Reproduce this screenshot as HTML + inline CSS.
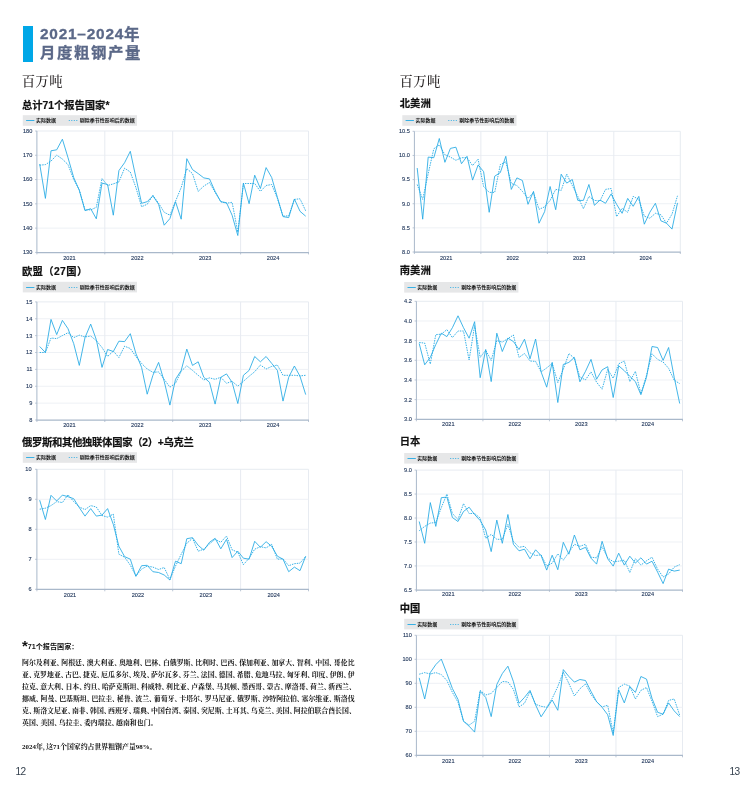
<!DOCTYPE html>
<html lang="zh-CN"><head><meta charset="utf-8"><title>2021–2024年 月度粗钢产量</title>
<style>
html,body{margin:0;padding:0;background:#fff}
body{width:756px;height:794px;position:relative;overflow:hidden;font-family:"Liberation Sans","Noto Sans CJK SC",sans-serif;color:#1a1a1a}
.abs{position:absolute}
.bar{position:absolute;left:22.9px;top:25.9px;width:10px;height:36.2px;background:#00a7e7}
.h1{position:absolute;left:40px;font-size:16px;line-height:18px;font-weight:700;color:#5b6888;-webkit-text-stroke:0.3px #5b6888;white-space:nowrap}
.unit{position:absolute;top:73px;font-family:"Liberation Serif","Noto Serif CJK SC",serif;font-size:13.4px;line-height:18px;color:#231f20;font-weight:500;white-space:nowrap;letter-spacing:0.3px}
.ct{position:absolute;font-size:10.3px;line-height:12px;font-weight:700;color:#111;-webkit-text-stroke:0.2px #111;white-space:nowrap}
svg{position:absolute;left:0;top:0}
.al{font-family:"Liberation Sans",sans-serif;font-size:5.6px;fill:#23395d;stroke:#23395d;stroke-width:0.12px}
.lg{font-family:"Liberation Sans","Noto Sans CJK SC",sans-serif;font-size:5px;fill:#111;font-weight:700}
.fh{position:absolute;left:27.7px;top:641.6px;font-size:7.15px;line-height:10px;font-weight:700;color:#111;white-space:nowrap}
.star{position:absolute;left:22.1px;top:638.3px;font-size:15px;line-height:15px;font-weight:700;color:#111}
.ft{position:absolute;left:22.1px;top:656.6px;width:332.5px;font-family:"Liberation Serif","Noto Serif CJK SC",serif;font-weight:700;font-size:6.9px;color:#111;font-feature-settings:"halt"}
.fl{height:12.06px;line-height:12.06px;white-space:nowrap}
.fj{display:flex;justify-content:space-between}
.fn span{margin-right:1.1px}
.fe{padding-right:2.2px;box-sizing:border-box}
.pn{position:absolute;top:765.2px;font-size:10.1px;letter-spacing:-0.7px;line-height:14px;color:#36424f;font-family:"Liberation Sans",sans-serif}
</style></head><body>
<div class="bar"></div>
<div class="h1" style="top:25.4px;letter-spacing:0.78px"><span style="font-size:15.4px">2021–2024</span><span style="font-size:15.5px;letter-spacing:0;position:relative;top:1px">年</span></div>
<div class="h1" style="top:44.3px;letter-spacing:1.6px;font-size:15.4px;transform:scaleY(0.94);transform-origin:0 85%">月度粗钢产量</div>
<div class="unit" style="left:21.8px">百万吨</div>
<div class="unit" style="left:399.6px">百万吨</div>
<div class="ct" style="left:21.9px;top:99.7px;letter-spacing:0px">总计71个报告国家*</div>
<div class="ct" style="left:21.9px;top:265.9px;letter-spacing:0.4px">欧盟（27国）</div>
<div class="ct" style="left:21.9px;top:436.5px;letter-spacing:-0.27px">俄罗斯和其他独联体国家（2）+乌克兰</div>
<div class="ct" style="left:399.8px;top:98.4px;letter-spacing:0px">北美洲</div>
<div class="ct" style="left:399.8px;top:265.2px;letter-spacing:0px">南美洲</div>
<div class="ct" style="left:399.8px;top:435.7px;letter-spacing:0px">日本</div>
<div class="ct" style="left:399.8px;top:602.7px;letter-spacing:0px">中国</div>
<svg width="756" height="794" viewBox="0 0 756 794">
<path d="M36.9 131.0H308.5V252.4" fill="none" stroke="#e7ebf1" stroke-width="1"/>
<path d="M36.9 155.28H308.5" stroke="#eef1f5" stroke-width="1"/>
<path d="M36.9 179.56H308.5" stroke="#eef1f5" stroke-width="1"/>
<path d="M36.9 203.84H308.5" stroke="#eef1f5" stroke-width="1"/>
<path d="M36.9 228.12H308.5" stroke="#eef1f5" stroke-width="1"/>
<path d="M104.80 131.0V252.4" stroke="#e7ebf1" stroke-width="1"/>
<path d="M172.70 131.0V252.4" stroke="#e7ebf1" stroke-width="1"/>
<path d="M240.60 131.0V252.4" stroke="#e7ebf1" stroke-width="1"/>
<path d="M36.9 131.0V252.4" fill="none" stroke="#a9b8ca" stroke-width="1"/>
<path d="M36.4 252.5H308.9" fill="none" stroke="#a9b8ca" stroke-width="1.25"/>
<path d="M35.1 131.00H36.9M35.1 155.28H36.9M35.1 179.56H36.9M35.1 203.84H36.9M35.1 228.12H36.9M35.1 252.40H36.9M36.90 252.4V254.4M104.80 252.4V254.4M172.70 252.4V254.4M240.60 252.4V254.4M308.50 252.4V254.4" stroke="#a9b8ca" stroke-width="0.8" fill="none"/>
<text x="32.3" y="132.90" text-anchor="end" class="al">180</text>
<text x="32.3" y="157.18" text-anchor="end" class="al">170</text>
<text x="32.3" y="181.46" text-anchor="end" class="al">160</text>
<text x="32.3" y="205.74" text-anchor="end" class="al">150</text>
<text x="32.3" y="230.02" text-anchor="end" class="al">140</text>
<text x="32.3" y="254.30" text-anchor="end" class="al">130</text>
<text x="69.4" y="259.9" text-anchor="middle" class="al">2021</text>
<text x="137.3" y="259.9" text-anchor="middle" class="al">2022</text>
<text x="205.2" y="259.9" text-anchor="middle" class="al">2023</text>
<text x="273.1" y="259.9" text-anchor="middle" class="al">2024</text>
<polyline points="39.7,165.2 45.4,164.6 51.0,161.1 56.7,155.1 62.4,159.1 68.0,164.6 73.7,179.5 79.3,189.8 85.0,209.7 90.7,209.9 96.3,207.3 102.0,178.5 107.6,185.5 113.3,183.9 118.9,181.9 124.6,168.2 130.3,172.0 135.9,187.5 141.6,206.7 147.2,204.3 152.9,195.4 158.6,203.3 164.2,212.3 169.9,215.2 175.5,201.3 181.2,187.5 186.8,168.6 192.5,173.6 198.2,191.4 203.8,186.1 209.5,182.5 215.1,192.4 220.8,201.7 226.5,203.3 232.1,202.3 237.8,232.1 243.4,183.5 249.1,183.5 254.7,183.5 260.4,191.4 266.1,185.5 271.7,184.5 277.4,198.4 283.0,216.2 288.7,215.8 294.4,199.4 300.0,198.8 305.7,210.9" fill="none" stroke="#22a9e4" stroke-width="0.9" stroke-dasharray="1.5 1.0" stroke-linejoin="round"/>
<polyline points="39.7,164.0 45.4,198.4 51.0,150.8 56.7,149.8 62.4,139.2 68.0,157.7 73.7,177.5 79.3,190.4 85.0,210.7 90.7,208.7 96.3,218.8 102.0,183.1 107.6,184.5 113.3,215.2 118.9,170.6 124.6,162.7 130.3,151.3 135.9,177.5 141.6,203.3 147.2,201.7 152.9,195.8 158.6,204.3 164.2,225.2 169.9,218.6 175.5,201.7 181.2,219.2 186.8,158.7 192.5,169.6 198.2,173.6 203.8,177.9 209.5,178.9 215.1,191.4 220.8,201.7 226.5,202.7 232.1,215.2 237.8,235.5 243.4,183.1 249.1,203.7 254.7,175.2 260.4,188.5 266.1,167.6 271.7,177.5 277.4,197.4 283.0,216.6 288.7,217.6 294.4,199.0 300.0,211.3 305.7,216.2" fill="none" stroke="#22a9e4" stroke-width="0.85" stroke-linejoin="round"/>
<rect x="22.8" y="115.2" width="114.2" height="10.6" fill="#e6e7e8"/>
<path d="M26.1 120.5h8.3" stroke="#22a9e4" stroke-width="0.9"/>
<text x="35.9" y="122.3" class="lg">实际数据</text>
<path d="M68.8 120.5h9" stroke="#22a9e4" stroke-width="0.9" stroke-dasharray="1 1.5"/>
<text x="79.8" y="122.3" class="lg">剔除季节性影响后的数据</text>
<path d="M36.9 301.9H308.5V420.0" fill="none" stroke="#e7ebf1" stroke-width="1"/>
<path d="M36.9 318.77H308.5" stroke="#eef1f5" stroke-width="1"/>
<path d="M36.9 335.64H308.5" stroke="#eef1f5" stroke-width="1"/>
<path d="M36.9 352.51H308.5" stroke="#eef1f5" stroke-width="1"/>
<path d="M36.9 369.39H308.5" stroke="#eef1f5" stroke-width="1"/>
<path d="M36.9 386.26H308.5" stroke="#eef1f5" stroke-width="1"/>
<path d="M36.9 403.13H308.5" stroke="#eef1f5" stroke-width="1"/>
<path d="M104.80 301.9V420.0" stroke="#e7ebf1" stroke-width="1"/>
<path d="M172.70 301.9V420.0" stroke="#e7ebf1" stroke-width="1"/>
<path d="M240.60 301.9V420.0" stroke="#e7ebf1" stroke-width="1"/>
<path d="M36.9 301.9V420.0" fill="none" stroke="#a9b8ca" stroke-width="1"/>
<path d="M36.4 420.1H308.9" fill="none" stroke="#a9b8ca" stroke-width="1.25"/>
<path d="M35.1 301.90H36.9M35.1 318.77H36.9M35.1 335.64H36.9M35.1 352.51H36.9M35.1 369.39H36.9M35.1 386.26H36.9M35.1 403.13H36.9M35.1 420.00H36.9M36.90 420.0V422.0M104.80 420.0V422.0M172.70 420.0V422.0M240.60 420.0V422.0M308.50 420.0V422.0" stroke="#a9b8ca" stroke-width="0.8" fill="none"/>
<text x="32.3" y="303.80" text-anchor="end" class="al">15</text>
<text x="32.3" y="320.67" text-anchor="end" class="al">14</text>
<text x="32.3" y="337.54" text-anchor="end" class="al">13</text>
<text x="32.3" y="354.41" text-anchor="end" class="al">12</text>
<text x="32.3" y="371.29" text-anchor="end" class="al">11</text>
<text x="32.3" y="388.16" text-anchor="end" class="al">10</text>
<text x="32.3" y="405.03" text-anchor="end" class="al">9</text>
<text x="32.3" y="421.90" text-anchor="end" class="al">8</text>
<text x="69.4" y="426.5" text-anchor="middle" class="al">2021</text>
<text x="137.3" y="426.5" text-anchor="middle" class="al">2022</text>
<text x="205.2" y="426.5" text-anchor="middle" class="al">2023</text>
<text x="273.1" y="426.5" text-anchor="middle" class="al">2024</text>
<polyline points="39.7,352.5 45.4,352.5 51.0,338.0 56.7,338.6 62.4,335.6 68.0,332.7 73.7,337.6 79.3,335.2 85.0,337.0 90.7,336.0 96.3,340.6 102.0,347.5 107.6,356.5 113.3,351.1 118.9,357.5 124.6,346.2 130.3,348.5 135.9,356.5 141.6,363.4 147.2,369.0 152.9,372.3 158.6,371.9 164.2,379.3 169.9,387.2 175.5,383.3 181.2,371.3 186.8,365.8 192.5,370.4 198.2,375.3 203.8,379.9 209.5,377.9 215.1,379.3 220.8,377.3 226.5,383.3 232.1,381.3 237.8,386.2 243.4,381.3 249.1,376.3 254.7,371.7 260.4,365.0 266.1,369.0 271.7,366.4 277.4,365.0 283.0,375.3 288.7,375.3 294.4,375.3 300.0,375.9 305.7,375.3" fill="none" stroke="#22a9e4" stroke-width="0.9" stroke-dasharray="1.5 1.0" stroke-linejoin="round"/>
<polyline points="39.7,346.5 45.4,352.5 51.0,319.4 56.7,334.6 62.4,320.4 68.0,328.7 73.7,343.6 79.3,365.4 85.0,337.6 90.7,324.1 96.3,339.6 102.0,367.4 107.6,349.5 113.3,351.5 118.9,341.2 124.6,341.6 130.3,333.7 135.9,353.5 141.6,367.4 147.2,394.2 152.9,375.3 158.6,362.4 164.2,381.3 169.9,405.1 175.5,379.3 181.2,370.4 186.8,349.1 192.5,365.4 198.2,361.8 203.8,377.3 209.5,382.3 215.1,404.1 220.8,377.3 226.5,373.9 232.1,382.3 237.8,403.5 243.4,375.3 249.1,370.4 254.7,356.5 260.4,361.8 266.1,356.5 271.7,363.4 277.4,370.4 283.0,401.1 288.7,377.3 294.4,366.0 300.0,376.3 305.7,394.6" fill="none" stroke="#22a9e4" stroke-width="0.85" stroke-linejoin="round"/>
<rect x="22.8" y="281.8" width="114.2" height="10.6" fill="#e6e7e8"/>
<path d="M26.1 287.5h8.3" stroke="#22a9e4" stroke-width="0.9"/>
<text x="35.9" y="288.9" class="lg">实际数据</text>
<path d="M68.8 287.5h9" stroke="#22a9e4" stroke-width="0.9" stroke-dasharray="1 1.5"/>
<text x="79.8" y="288.9" class="lg">剔除季节性影响后的数据</text>
<path d="M36.9 469.3H308.5V589.3" fill="none" stroke="#e7ebf1" stroke-width="1"/>
<path d="M36.9 499.30H308.5" stroke="#eef1f5" stroke-width="1"/>
<path d="M36.9 529.30H308.5" stroke="#eef1f5" stroke-width="1"/>
<path d="M36.9 559.30H308.5" stroke="#eef1f5" stroke-width="1"/>
<path d="M104.80 469.3V589.3" stroke="#e7ebf1" stroke-width="1"/>
<path d="M172.70 469.3V589.3" stroke="#e7ebf1" stroke-width="1"/>
<path d="M240.60 469.3V589.3" stroke="#e7ebf1" stroke-width="1"/>
<path d="M36.9 469.3V589.3" fill="none" stroke="#a9b8ca" stroke-width="1"/>
<path d="M36.4 589.4H308.9" fill="none" stroke="#a9b8ca" stroke-width="1.25"/>
<path d="M35.1 469.30H36.9M35.1 499.30H36.9M35.1 529.30H36.9M35.1 559.30H36.9M35.1 589.30H36.9M36.90 589.3V591.3M104.80 589.3V591.3M172.70 589.3V591.3M240.60 589.3V591.3M308.50 589.3V591.3" stroke="#a9b8ca" stroke-width="0.8" fill="none"/>
<text x="31.5" y="471.20" text-anchor="end" class="al">10</text>
<text x="31.5" y="501.20" text-anchor="end" class="al">9</text>
<text x="31.5" y="531.20" text-anchor="end" class="al">8</text>
<text x="31.5" y="561.20" text-anchor="end" class="al">7</text>
<text x="31.5" y="591.20" text-anchor="end" class="al">6</text>
<text x="70.0" y="596.8" text-anchor="middle" class="al">2021</text>
<text x="137.9" y="596.8" text-anchor="middle" class="al">2022</text>
<text x="205.8" y="596.8" text-anchor="middle" class="al">2023</text>
<text x="273.7" y="596.8" text-anchor="middle" class="al">2024</text>
<polyline points="39.7,509.2 45.4,508.2 51.0,505.6 56.7,501.6 62.4,502.6 68.0,494.7 73.7,501.6 79.3,507.0 85.0,509.6 90.7,505.6 96.3,507.0 102.0,515.5 107.6,517.1 113.3,514.1 118.9,554.2 124.6,557.2 130.3,565.1 135.9,576.0 141.6,569.1 147.2,566.1 152.9,567.1 158.6,569.5 164.2,567.5 169.9,579.6 175.5,566.1 181.2,554.2 186.8,543.3 192.5,538.3 198.2,551.2 203.8,549.2 209.5,543.9 215.1,539.3 220.8,542.3 226.5,536.0 232.1,549.8 237.8,552.2 243.4,564.7 249.1,558.2 254.7,549.2 260.4,546.7 266.1,547.9 271.7,544.3 277.4,559.2 283.0,558.8 288.7,565.7 294.4,563.7 300.0,563.1 305.7,556.6" fill="none" stroke="#22a9e4" stroke-width="0.9" stroke-dasharray="1.5 1.0" stroke-linejoin="round"/>
<polyline points="39.7,500.2 45.4,519.5 51.0,495.3 56.7,501.0 62.4,495.1 68.0,496.7 73.7,498.7 79.3,507.6 85.0,516.1 90.7,508.6 96.3,516.1 102.0,515.1 107.6,508.6 113.3,524.4 118.9,546.3 124.6,556.6 130.3,559.2 135.9,576.4 141.6,565.7 147.2,565.3 152.9,571.7 158.6,572.5 164.2,575.0 169.9,580.0 175.5,561.2 181.2,563.7 186.8,538.7 192.5,537.7 198.2,545.3 203.8,550.2 209.5,542.3 215.1,538.3 220.8,548.8 226.5,539.3 232.1,557.6 237.8,551.2 243.4,558.2 249.1,559.2 254.7,541.3 260.4,547.3 266.1,541.7 271.7,546.3 277.4,556.2 283.0,559.2 288.7,571.7 294.4,567.1 300.0,570.7 305.7,556.2" fill="none" stroke="#22a9e4" stroke-width="0.85" stroke-linejoin="round"/>
<rect x="22.8" y="452.2" width="114.2" height="10.6" fill="#e6e7e8"/>
<path d="M26.1 457.5h8.3" stroke="#22a9e4" stroke-width="0.9"/>
<text x="35.9" y="459.3" class="lg">实际数据</text>
<path d="M68.8 457.5h9" stroke="#22a9e4" stroke-width="0.9" stroke-dasharray="1 1.5"/>
<text x="79.8" y="459.3" class="lg">剔除季节性影响后的数据</text>
<path d="M414.4 131.3H680.3V252.0" fill="none" stroke="#e7ebf1" stroke-width="1"/>
<path d="M414.4 155.44H680.3" stroke="#eef1f5" stroke-width="1"/>
<path d="M414.4 179.58H680.3" stroke="#eef1f5" stroke-width="1"/>
<path d="M414.4 203.72H680.3" stroke="#eef1f5" stroke-width="1"/>
<path d="M414.4 227.86H680.3" stroke="#eef1f5" stroke-width="1"/>
<path d="M480.88 131.3V252.0" stroke="#e7ebf1" stroke-width="1"/>
<path d="M547.35 131.3V252.0" stroke="#e7ebf1" stroke-width="1"/>
<path d="M613.82 131.3V252.0" stroke="#e7ebf1" stroke-width="1"/>
<path d="M414.4 131.3V252.0" fill="none" stroke="#a9b8ca" stroke-width="1"/>
<path d="M413.9 252.1H680.7" fill="none" stroke="#a9b8ca" stroke-width="1.25"/>
<path d="M412.6 131.30H414.4M412.6 155.44H414.4M412.6 179.58H414.4M412.6 203.72H414.4M412.6 227.86H414.4M412.6 252.00H414.4M414.40 252.0V254.0M480.88 252.0V254.0M547.35 252.0V254.0M613.82 252.0V254.0M680.30 252.0V254.0" stroke="#a9b8ca" stroke-width="0.8" fill="none"/>
<text x="409.8" y="133.20" text-anchor="end" class="al">10.5</text>
<text x="409.8" y="157.34" text-anchor="end" class="al">10.0</text>
<text x="409.8" y="181.48" text-anchor="end" class="al">9.5</text>
<text x="409.8" y="205.62" text-anchor="end" class="al">9.0</text>
<text x="409.8" y="229.76" text-anchor="end" class="al">8.5</text>
<text x="409.8" y="253.90" text-anchor="end" class="al">8.0</text>
<text x="446.2" y="259.6" text-anchor="middle" class="al">2021</text>
<text x="512.7" y="259.6" text-anchor="middle" class="al">2022</text>
<text x="579.2" y="259.6" text-anchor="middle" class="al">2023</text>
<text x="645.7" y="259.6" text-anchor="middle" class="al">2024</text>
<polyline points="417.2,184.5 422.7,199.4 428.2,173.6 433.8,148.8 439.3,144.8 444.9,154.7 450.4,157.1 455.9,160.3 461.5,157.7 467.0,157.7 472.6,165.6 478.1,159.1 483.6,186.5 489.2,192.4 494.7,192.4 500.3,164.6 505.8,161.7 511.3,183.5 516.9,185.5 522.4,191.4 528.0,198.4 533.5,192.4 539.0,209.3 544.6,206.9 550.1,200.4 555.7,189.4 561.2,190.4 566.7,174.0 572.3,185.5 577.8,196.4 583.4,208.7 588.9,196.4 594.4,200.4 600.0,201.0 605.5,189.4 611.1,188.5 616.6,216.6 622.1,208.3 627.7,212.3 633.2,196.4 638.8,199.4 644.3,216.2 649.8,218.2 655.4,213.3 660.9,214.8 666.5,223.2 672.0,214.2 677.5,195.8" fill="none" stroke="#22a9e4" stroke-width="0.9" stroke-dasharray="1.5 1.0" stroke-linejoin="round"/>
<polyline points="417.2,168.0 422.7,219.2 428.2,157.1 433.8,157.7 439.3,138.5 444.9,162.3 450.4,148.4 455.9,147.2 461.5,163.7 467.0,156.3 472.6,180.1 478.1,165.0 483.6,171.6 489.2,212.3 494.7,176.2 500.3,172.6 505.8,156.3 511.3,189.4 516.9,177.9 522.4,180.5 528.0,204.3 533.5,191.4 539.0,223.2 544.6,211.7 550.1,186.5 555.7,209.7 561.2,174.2 566.7,183.1 572.3,179.5 577.8,200.4 583.4,200.4 588.9,184.5 594.4,205.3 600.0,200.0 605.5,203.3 611.1,194.0 616.6,204.3 622.1,213.3 627.7,198.4 633.2,206.3 638.8,196.4 644.3,224.2 649.8,212.3 655.4,203.3 660.9,220.8 666.5,223.2 672.0,229.1 677.5,202.9" fill="none" stroke="#22a9e4" stroke-width="0.85" stroke-linejoin="round"/>
<rect x="402.3" y="115.2" width="114.2" height="10.6" fill="#e6e7e8"/>
<path d="M405.6 120.5h8.3" stroke="#22a9e4" stroke-width="0.9"/>
<text x="415.4" y="122.3" class="lg">实际数据</text>
<path d="M448.3 120.5h9" stroke="#22a9e4" stroke-width="0.9" stroke-dasharray="1 1.5"/>
<text x="459.3" y="122.3" class="lg">剔除季节性影响后的数据</text>
<path d="M416.4 301.3H682.5V419.3" fill="none" stroke="#e7ebf1" stroke-width="1"/>
<path d="M416.4 320.97H682.5" stroke="#eef1f5" stroke-width="1"/>
<path d="M416.4 340.63H682.5" stroke="#eef1f5" stroke-width="1"/>
<path d="M416.4 360.30H682.5" stroke="#eef1f5" stroke-width="1"/>
<path d="M416.4 379.97H682.5" stroke="#eef1f5" stroke-width="1"/>
<path d="M416.4 399.63H682.5" stroke="#eef1f5" stroke-width="1"/>
<path d="M482.92 301.3V419.3" stroke="#e7ebf1" stroke-width="1"/>
<path d="M549.45 301.3V419.3" stroke="#e7ebf1" stroke-width="1"/>
<path d="M615.98 301.3V419.3" stroke="#e7ebf1" stroke-width="1"/>
<path d="M416.4 301.3V419.3" fill="none" stroke="#a9b8ca" stroke-width="1"/>
<path d="M415.9 419.4H682.9" fill="none" stroke="#a9b8ca" stroke-width="1.25"/>
<path d="M414.6 301.30H416.4M414.6 320.97H416.4M414.6 340.63H416.4M414.6 360.30H416.4M414.6 379.97H416.4M414.6 399.63H416.4M414.6 419.30H416.4M416.40 419.3V421.3M482.92 419.3V421.3M549.45 419.3V421.3M615.98 419.3V421.3M682.50 419.3V421.3" stroke="#a9b8ca" stroke-width="0.8" fill="none"/>
<text x="411.8" y="303.20" text-anchor="end" class="al">4.2</text>
<text x="411.8" y="322.87" text-anchor="end" class="al">4.0</text>
<text x="411.8" y="342.53" text-anchor="end" class="al">3.8</text>
<text x="411.8" y="362.20" text-anchor="end" class="al">3.6</text>
<text x="411.8" y="381.87" text-anchor="end" class="al">3.4</text>
<text x="411.8" y="401.53" text-anchor="end" class="al">3.2</text>
<text x="411.8" y="421.20" text-anchor="end" class="al">3.0</text>
<text x="448.3" y="425.8" text-anchor="middle" class="al">2021</text>
<text x="514.8" y="425.8" text-anchor="middle" class="al">2022</text>
<text x="581.3" y="425.8" text-anchor="middle" class="al">2023</text>
<text x="647.8" y="425.8" text-anchor="middle" class="al">2024</text>
<polyline points="419.2,342.5 424.7,343.1 430.3,364.0 435.8,334.6 441.3,334.2 446.9,329.6 452.4,337.6 458.0,331.0 463.5,331.0 469.1,360.0 474.6,325.7 480.2,357.4 485.7,350.1 491.2,360.4 496.8,340.6 502.3,342.1 507.9,338.6 513.4,335.0 519.0,357.4 524.5,353.5 530.0,361.0 535.6,361.4 541.1,371.9 546.7,367.9 552.2,363.4 557.8,382.6 563.3,369.3 568.9,353.5 574.4,358.4 579.9,377.3 585.5,379.8 591.0,371.9 596.6,382.2 602.1,389.2 607.7,369.3 613.2,378.3 618.7,363.8 624.3,361.0 629.8,381.6 635.4,371.3 640.9,393.7 646.5,375.3 652.0,353.8 657.6,359.4 663.1,362.0 668.6,368.3 674.2,380.2 679.7,383.6" fill="none" stroke="#22a9e4" stroke-width="0.9" stroke-dasharray="1.5 1.0" stroke-linejoin="round"/>
<polyline points="419.2,343.5 424.7,364.8 430.3,357.4 435.8,344.5 441.3,333.2 446.9,336.6 452.4,327.7 458.0,315.8 463.5,327.7 469.1,338.2 474.6,321.7 480.2,377.7 485.7,349.5 491.2,381.6 496.8,333.2 502.3,351.5 507.9,338.2 513.4,341.5 519.0,349.5 524.5,339.2 530.0,358.8 535.6,339.0 541.1,371.9 546.7,387.2 552.2,362.4 557.8,402.5 563.3,364.4 568.9,362.4 574.4,357.4 579.9,381.8 585.5,371.3 591.0,359.4 596.6,379.2 602.1,369.9 607.7,366.7 613.2,397.5 618.7,365.8 624.3,370.7 629.8,376.3 635.4,381.6 640.9,394.7 646.5,377.3 652.0,346.5 657.6,347.5 663.1,360.4 668.6,347.5 674.2,377.3 679.7,403.5" fill="none" stroke="#22a9e4" stroke-width="0.85" stroke-linejoin="round"/>
<rect x="404.2" y="282.0" width="114.2" height="10.6" fill="#e6e7e8"/>
<path d="M407.5 287.5h8.3" stroke="#22a9e4" stroke-width="0.9"/>
<text x="417.3" y="289.1" class="lg">实际数据</text>
<path d="M450.2 287.5h9" stroke="#22a9e4" stroke-width="0.9" stroke-dasharray="1 1.5"/>
<text x="461.2" y="289.1" class="lg">剔除季节性影响后的数据</text>
<path d="M416.4 470.1H682.5V589.9" fill="none" stroke="#e7ebf1" stroke-width="1"/>
<path d="M416.4 494.06H682.5" stroke="#eef1f5" stroke-width="1"/>
<path d="M416.4 518.02H682.5" stroke="#eef1f5" stroke-width="1"/>
<path d="M416.4 541.98H682.5" stroke="#eef1f5" stroke-width="1"/>
<path d="M416.4 565.94H682.5" stroke="#eef1f5" stroke-width="1"/>
<path d="M482.92 470.1V589.9" stroke="#e7ebf1" stroke-width="1"/>
<path d="M549.45 470.1V589.9" stroke="#e7ebf1" stroke-width="1"/>
<path d="M615.98 470.1V589.9" stroke="#e7ebf1" stroke-width="1"/>
<path d="M416.4 470.1V589.9" fill="none" stroke="#a9b8ca" stroke-width="1"/>
<path d="M415.9 590.0H682.9" fill="none" stroke="#a9b8ca" stroke-width="1.25"/>
<path d="M414.6 470.10H416.4M414.6 494.06H416.4M414.6 518.02H416.4M414.6 541.98H416.4M414.6 565.94H416.4M414.6 589.90H416.4M416.40 589.9V591.9M482.92 589.9V591.9M549.45 589.9V591.9M615.98 589.9V591.9M682.50 589.9V591.9" stroke="#a9b8ca" stroke-width="0.8" fill="none"/>
<text x="411.8" y="472.00" text-anchor="end" class="al">9.0</text>
<text x="411.8" y="495.96" text-anchor="end" class="al">8.5</text>
<text x="411.8" y="519.92" text-anchor="end" class="al">8.0</text>
<text x="411.8" y="543.88" text-anchor="end" class="al">7.5</text>
<text x="411.8" y="567.84" text-anchor="end" class="al">7.0</text>
<text x="411.8" y="591.80" text-anchor="end" class="al">6.5</text>
<text x="448.3" y="596.4" text-anchor="middle" class="al">2021</text>
<text x="514.8" y="596.4" text-anchor="middle" class="al">2022</text>
<text x="581.3" y="596.4" text-anchor="middle" class="al">2023</text>
<text x="647.8" y="596.4" text-anchor="middle" class="al">2024</text>
<polyline points="419.2,530.8 424.7,526.4 430.3,523.1 435.8,522.5 441.3,507.6 446.9,494.1 452.4,513.5 458.0,519.5 463.5,503.6 469.1,513.5 474.6,513.5 480.2,518.1 485.7,538.3 491.2,534.4 496.8,539.3 502.3,539.3 507.9,524.4 513.4,541.3 519.0,547.3 524.5,546.3 530.0,552.8 535.6,555.6 541.1,554.8 546.7,566.1 552.2,563.1 557.8,553.8 563.3,560.2 568.9,552.2 574.4,544.3 579.9,546.3 585.5,544.3 591.0,557.2 596.6,557.8 602.1,546.7 607.7,557.8 613.2,561.7 618.7,561.2 624.3,560.2 629.8,572.5 635.4,558.6 640.9,565.1 646.5,560.8 652.0,557.2 657.6,569.1 663.1,577.0 668.6,574.0 674.2,567.1 679.7,564.7" fill="none" stroke="#22a9e4" stroke-width="0.9" stroke-dasharray="1.5 1.0" stroke-linejoin="round"/>
<polyline points="419.2,521.5 424.7,543.3 430.3,502.6 435.8,526.4 441.3,497.7 446.9,497.1 452.4,517.5 458.0,521.5 463.5,511.5 469.1,507.2 474.6,514.5 480.2,520.5 485.7,530.0 491.2,551.6 496.8,520.1 502.3,543.3 507.9,514.5 513.4,544.3 519.0,550.8 524.5,549.2 530.0,558.8 535.6,549.8 541.1,555.6 546.7,570.1 552.2,555.2 557.8,569.7 563.3,542.3 568.9,554.2 574.4,535.0 579.9,549.8 585.5,547.3 591.0,558.2 596.6,564.1 602.1,541.3 607.7,558.8 613.2,566.1 618.7,553.2 624.3,565.1 629.8,556.2 635.4,563.1 640.9,557.8 646.5,564.1 652.0,561.2 657.6,572.1 663.1,583.6 668.6,569.1 674.2,571.1 679.7,570.1" fill="none" stroke="#22a9e4" stroke-width="0.85" stroke-linejoin="round"/>
<rect x="404.2" y="453.0" width="114.2" height="10.6" fill="#e6e7e8"/>
<path d="M407.5 458.5h8.3" stroke="#22a9e4" stroke-width="0.9"/>
<text x="417.3" y="460.1" class="lg">实际数据</text>
<path d="M450.2 458.5h9" stroke="#22a9e4" stroke-width="0.9" stroke-dasharray="1 1.5"/>
<text x="461.2" y="460.1" class="lg">剔除季节性影响后的数据</text>
<path d="M416.4 635.3H682.5V755.3" fill="none" stroke="#e7ebf1" stroke-width="1"/>
<path d="M416.4 659.30H682.5" stroke="#eef1f5" stroke-width="1"/>
<path d="M416.4 683.30H682.5" stroke="#eef1f5" stroke-width="1"/>
<path d="M416.4 707.30H682.5" stroke="#eef1f5" stroke-width="1"/>
<path d="M416.4 731.30H682.5" stroke="#eef1f5" stroke-width="1"/>
<path d="M482.92 635.3V755.3" stroke="#e7ebf1" stroke-width="1"/>
<path d="M549.45 635.3V755.3" stroke="#e7ebf1" stroke-width="1"/>
<path d="M615.98 635.3V755.3" stroke="#e7ebf1" stroke-width="1"/>
<path d="M416.4 635.3V755.3" fill="none" stroke="#a9b8ca" stroke-width="1"/>
<path d="M415.9 755.4H682.9" fill="none" stroke="#a9b8ca" stroke-width="1.25"/>
<path d="M414.6 635.30H416.4M414.6 659.30H416.4M414.6 683.30H416.4M414.6 707.30H416.4M414.6 731.30H416.4M414.6 755.30H416.4M416.40 755.3V757.3M482.92 755.3V757.3M549.45 755.3V757.3M615.98 755.3V757.3M682.50 755.3V757.3" stroke="#a9b8ca" stroke-width="0.8" fill="none"/>
<text x="411.8" y="637.20" text-anchor="end" class="al">110</text>
<text x="411.8" y="661.20" text-anchor="end" class="al">100</text>
<text x="411.8" y="685.20" text-anchor="end" class="al">90</text>
<text x="411.8" y="709.20" text-anchor="end" class="al">80</text>
<text x="411.8" y="733.20" text-anchor="end" class="al">70</text>
<text x="411.8" y="757.20" text-anchor="end" class="al">60</text>
<text x="448.3" y="762.9" text-anchor="middle" class="al">2021</text>
<text x="514.8" y="762.9" text-anchor="middle" class="al">2022</text>
<text x="581.3" y="762.9" text-anchor="middle" class="al">2023</text>
<text x="647.8" y="762.9" text-anchor="middle" class="al">2024</text>
<polyline points="419.2,674.2 424.7,672.6 430.3,674.0 435.8,672.6 441.3,674.6 446.9,680.5 452.4,692.4 458.0,702.3 463.5,721.2 469.1,725.2 474.6,721.2 480.2,690.4 485.7,695.0 491.2,693.4 496.8,687.5 502.3,681.5 507.9,681.9 513.4,689.4 519.0,706.9 524.5,703.3 530.0,691.4 535.6,704.3 541.1,706.3 546.7,707.3 552.2,698.4 557.8,686.5 563.3,672.0 568.9,683.5 574.4,696.0 579.9,688.8 585.5,683.9 591.0,694.4 596.6,701.7 602.1,706.9 607.7,705.3 613.2,733.1 618.7,687.5 624.3,684.1 629.8,686.1 635.4,699.0 640.9,690.4 646.5,687.5 652.0,701.3 657.6,716.6 663.1,714.2 668.6,700.4 674.2,699.0 679.7,715.2" fill="none" stroke="#22a9e4" stroke-width="0.9" stroke-dasharray="1.5 1.0" stroke-linejoin="round"/>
<polyline points="419.2,677.9 424.7,699.0 430.3,672.6 435.8,664.6 441.3,659.1 446.9,673.6 452.4,688.5 458.0,699.4 463.5,721.2 469.1,726.2 474.6,732.1 480.2,691.4 485.7,697.4 491.2,716.6 496.8,684.5 502.3,673.6 507.9,666.2 513.4,681.5 519.0,703.3 524.5,697.4 530.0,690.4 535.6,704.9 541.1,716.8 546.7,708.3 552.2,700.0 557.8,710.3 563.3,669.6 568.9,676.5 574.4,682.1 579.9,679.5 585.5,680.5 591.0,691.4 596.6,701.7 602.1,707.3 607.7,714.8 613.2,735.5 618.7,689.8 624.3,702.9 629.8,686.5 635.4,692.4 640.9,676.5 646.5,679.1 652.0,698.4 657.6,712.3 663.1,714.2 668.6,702.9 674.2,710.9 679.7,716.6" fill="none" stroke="#22a9e4" stroke-width="0.85" stroke-linejoin="round"/>
<rect x="404.2" y="618.8" width="114.2" height="10.6" fill="#e6e7e8"/>
<path d="M407.5 624.5h8.3" stroke="#22a9e4" stroke-width="0.9"/>
<text x="417.3" y="625.9" class="lg">实际数据</text>
<path d="M450.2 624.5h9" stroke="#22a9e4" stroke-width="0.9" stroke-dasharray="1 1.5"/>
<text x="461.2" y="625.9" class="lg">剔除季节性影响后的数据</text>
</svg>
<div class="star">*</div><div class="fh">71个报告国家：</div>
<div class="ft"><div class="fl fj"><span>阿尔及利亚、</span><span>阿根廷、</span><span>澳大利亚、</span><span>奥地利、</span><span>巴林、</span><span>白俄罗斯、</span><span>比利时、</span><span>巴西、</span><span>保加利亚、</span><span>加拿大、</span><span>智利、</span><span>中国、</span><span>哥伦比</span></div><div class="fl fj"><span>亚、</span><span>克罗地亚、</span><span>古巴、</span><span>捷克、</span><span>厄瓜多尔、</span><span>埃及、</span><span>萨尔瓦多、</span><span>芬兰、</span><span>法国、</span><span>德国、</span><span>希腊、</span><span>危地马拉、</span><span>匈牙利、</span><span>印度、</span><span>伊朗、</span><span>伊</span></div><div class="fl fj fe"><span>拉克、</span><span>意大利、</span><span>日本、</span><span>约旦、</span><span>哈萨克斯坦、</span><span>科威特、</span><span>利比亚、</span><span>卢森堡、</span><span>马其顿、</span><span>墨西哥、</span><span>蒙古、</span><span>摩洛哥、</span><span>荷兰、</span><span>新西兰、</span></div><div class="fl fj"><span>挪威、</span><span>阿曼、</span><span>巴基斯坦、</span><span>巴拉圭、</span><span>秘鲁、</span><span>波兰、</span><span>葡萄牙、</span><span>卡塔尔、</span><span>罗马尼亚、</span><span>俄罗斯、</span><span>沙特阿拉伯、</span><span>塞尔维亚、</span><span>斯洛伐</span></div><div class="fl fj fe"><span>克、</span><span>斯洛文尼亚、</span><span>南非、</span><span>韩国、</span><span>西班牙、</span><span>瑞典、</span><span>中国台湾、</span><span>泰国、</span><span>突尼斯、</span><span>土耳其、</span><span>乌克兰、</span><span>美国、</span><span>阿拉伯联合酋长国、</span></div><div class="fl fn"><span>英国、</span><span>美国、</span><span>乌拉圭、</span><span>委内瑞拉、</span><span>越南和也门。</span></div><div class="fl" style="margin-top:12.1px">2024年，这71个国家约占世界粗钢产量98%。</div></div>
<div class="pn" style="left:15.5px">12</div>
<div class="pn" style="left:729.5px">13</div>
</body></html>
